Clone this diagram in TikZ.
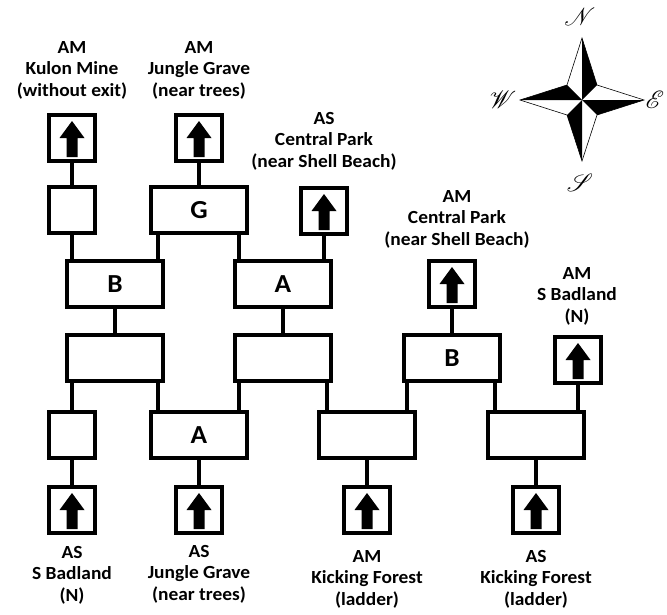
\documentclass[tikz,border=0pt]{standalone}
\usepackage{fontspec}
\setmainfont[FakeStretch=1.05]{Carlito}
\usepackage{mathrsfs}
\usepackage{tikz}

\begin{document}
\begin{tikzpicture}[x=1pt,y=-1pt,font=\fontsize{18.5}{21.5}\selectfont\bfseries,
  room/.style={draw,line width=4pt,minimum width=96pt,minimum height=46pt,inner sep=0pt,font=\fontsize{26}{26}\selectfont\bfseries},
  cell/.style={room,minimum width=46pt},
  door/.style={cell},
  link/.style={line width=4pt},
  tag/.style={align=center,inner sep=0pt},
  wind/.style={inner sep=0pt,font=\fontsize{27}{27}\selectfont}]
\useasboundingbox (0,0) rectangle (667,614);

% doors on top
\node[door] (dKulon) at (72,138) {};
\node[door] (dJungleAM) at (199,138) {};
\node[door] (dParkAS) at (324,211) {};
\node[door] (dParkAM) at (452,284) {};
\node[door] (dBadAM) at (578,360) {};
% doors at the bottom
\node[door] (dBadAS) at (72,510) {};
\node[door] (dJungleAS) at (199,510) {};
\node[door] (dKickAM) at (367,510) {};
\node[door] (dKickAS) at (536,510) {};

% rooms
\node[cell] (sTop) at (72,210) {};
\node[room] (rG) at (199,210) {G};
\node[room] (rB) at (115,284) {B};
\node[room] (rA) at (283,284) {A};
\node[room] (rE1) at (115,358) {};
\node[room] (rE2) at (283,358) {};
\node[room] (rB2) at (452,358) {B};
\node[cell] (sLow) at (72,435) {};
\node[room] (rA2) at (199,435) {A};
\node[room] (rK1) at (367,435) {};
\node[room] (rK2) at (536,435) {};

% arrows in the doors
\foreach \d in {dKulon,dJungleAM,dParkAS,dParkAM,dBadAM,dBadAS,dJungleAS,dKickAM,dKickAS}
  {\fill (\d.center) +(0,-17) -- +(12.5,0) -- +(5.5,0) -- +(5.5,19) -- +(-5.5,19) -- +(-5.5,0) -- +(-12.5,0) -- cycle;}

% where the side passages leave the rooms
\coordinate (xBG) at ([xshift=-7pt]rB.north east);
\coordinate (xGA) at ([xshift=6pt]rA.north west);
\coordinate (xEA) at ([xshift=-7pt]rE1.south east);
\coordinate (xAE) at ([xshift=6pt]rE2.south west);
\coordinate (xEK) at ([xshift=-6pt]rE2.south east);
\coordinate (xBK) at ([xshift=5pt]rB2.south west);
\coordinate (xKB) at ([xshift=-7pt]rB2.south east);

% passages
\draw[link] (dKulon.south) -- (sTop.north);
\draw[link] (dJungleAM.south) -- (rG.north);
\draw[link] (sTop.south) -- (sTop.south |- rB.north);
\draw[link] (xBG) -- (xBG |- rG.south);
\draw[link] (xGA) -- (xGA |- rG.south);
\draw[link] (dParkAS.south) -- (dParkAS.south |- rA.north);
\draw[link] (rB.south) -- (rE1.north);
\draw[link] (rA.south) -- (rE2.north);
\draw[link] (dParkAM.south) -- (rB2.north);
\draw[link] (sLow.north) -- (sLow.north |- rE1.south);
\draw[link] (xEA) -- (xEA |- rA2.north);
\draw[link] (xAE) -- (xAE |- rA2.north);
\draw[link] (xEK) -- (xEK |- rK1.north);
\draw[link] (xBK) -- (xBK |- rK1.north);
\draw[link] (xKB) -- (xKB |- rK2.north);
\draw[link] (dBadAM.south) -- (dBadAM.south |- rK2.north);
\draw[link] (sLow.south) -- (dBadAS.north);
\draw[link] (rA2.south) -- (dJungleAS.north);
\draw[link] (rK1.south) -- (dKickAM.north);
\draw[link] (rK2.south) -- (dKickAS.north);

% labels
\node[tag] (lKulon) at (72,70) {AM\\Kulon Mine\\(without exit)};
\node[tag] (lJungleAM) at (199,70) {AM\\Jungle Grave\\(near trees)};
\node[tag] (lParkAS) at (324,141) {AS\\Central Park\\(near Shell Beach)};
\node[tag] (lParkAM) at (457,219) {AM\\Central Park\\(near Shell Beach)};
\node[tag] (lBadAM) at (577,296) {AM\\S Badland\\(N)};
\node[tag] (lBadAS) at (72,575) {AS\\S Badland\\(N)};
\node[tag] (lJungleAS) at (199,574) {AS\\Jungle Grave\\(near trees)};
\node[tag] (lKickAM) at (367,579) {AM\\Kicking Forest\\(ladder)};
\node[tag] (lKickAS) at (536,579) {AS\\Kicking Forest\\(ladder)};

% compass
\draw[line width=0.6pt] (582,38) -- (597,85) -- (644,100) -- (597,115) -- (582,161) -- (567,115) -- (520,100) -- (567,85) -- cycle;
\fill (582,38) -- (582,100) -- (597,85) -- cycle;
\fill (644,100) -- (582,100) -- (597,115) -- cycle;
\fill (582,161) -- (582,100) -- (567,115) -- cycle;
\fill (520,100) -- (582,100) -- (567,85) -- cycle;
\node[wind] (north) at (580,17) {\(\mathscr{N}\)};
\node[wind] (west) at (503,100) {\(\mathscr{W}\)};
\node[wind] (east) at (655,100) {\(\mathscr{E}\)};
\node[wind] (south) at (580,183) {\(\mathscr{S}\)};
\end{tikzpicture}
\end{document}
